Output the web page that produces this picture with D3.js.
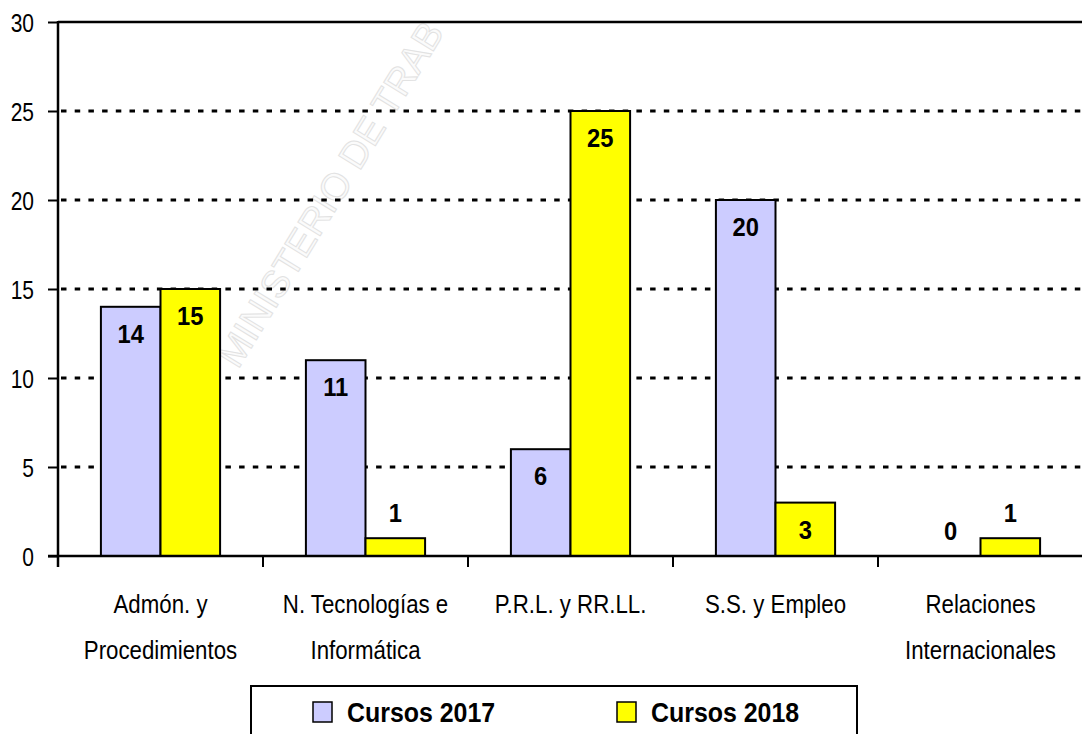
<!DOCTYPE html>
<html>
<head>
<meta charset="utf-8">
<script src="https://cdn.jsdelivr.net/npm/d3@7"></script>
<style>
  html, body { margin: 0; padding: 0; background: #fff; }
  svg { display: block; }
  text { font-family: "Liberation Sans", Arial, sans-serif; fill: #000; }
</style>
</head>
<body>
<svg id="chart" width="1082" height="734"></svg>
<script>
// ---- data ----
const categories = [
  ["Admón. y", "Procedimientos"],
  ["N. Tecnologías e", "Informática"],
  ["P.R.L. y RR.LL."],
  ["S.S. y Empleo"],
  ["Relaciones", "Internacionales"]
];
const categoryKeys = ["Admón. y Procedimientos", "N. Tecnologías e Informática", "P.R.L. y RR.LL.", "S.S. y Empleo", "Relaciones Internacionales"];
const seriesNames = ["Cursos 2017", "Cursos 2018"];
const cursos2017 = [14, 11, 6, 20, 0];
const cursos2018 = [15, 1, 25, 3, 1];
const yTicks = [0, 5, 10, 15, 20, 25, 30];
const colors = ["#CCCCFF", "#FFFF00"];

const seriesValues = [cursos2017, cursos2018];

const svg = d3.select("#chart");

// ---- scales ----
const x0 = d3.scaleBand().domain(categoryKeys).range([58, 1083]).paddingInner(0).paddingOuter(0);
const x1 = d3.scaleBand().domain(seriesNames).range([0, x0.bandwidth()]).paddingInner(0).paddingOuter(0.72);
const y = d3.scaleLinear().domain([0, 30]).range([556, 22]);

function squishText(parent, x, yy, str, size, weight, sx, anchor) {
  const g = parent.append("g").attr("transform", `translate(${x},${yy}) scale(${sx},1)`);
  g.append("text")
    .attr("text-anchor", anchor || "middle")
    .style("font-size", size + "px")
    .style("font-weight", weight || "normal")
    .text(str);
  return g;
}

// ---- watermark (visible part only) ----
svg.append("text")
  .attr("transform", "translate(238,370) rotate(-58.5)")
  .style("font-size", "38px")
  .style("fill", "#fbfbfb")
  .style("stroke", "#e2e2e2")
  .style("stroke-width", 1)
  .text("MINISTERIO DE TRAB");

// ---- gridlines ----
svg.append("g").selectAll("line")
  .data(yTicks.filter(d => d > 0 && d < 30))
  .join("line")
  .attr("x1", 61).attr("x2", 1082)
  .attr("y1", d => y(d)).attr("y2", d => y(d))
  .attr("stroke", "#000")
  .attr("stroke-width", 3)
  .attr("stroke-dasharray", "5.5,8.2");

// top border line at 30
svg.append("line")
  .attr("x1", 58).attr("x2", 1082)
  .attr("y1", y(30)).attr("y2", y(30))
  .attr("stroke", "#000").attr("stroke-width", 2.5);

// ---- bars ----
const groups = svg.append("g").selectAll("g")
  .data(categoryKeys)
  .join("g")
  .attr("transform", d => `translate(${x0(d)},0)`);

groups.selectAll("rect")
  .data((d, i) => seriesNames.map((s, j) => ({ s, v: seriesValues[j][i], j })))
  .join("rect")
  .attr("x", d => x1(d.s))
  .attr("width", x1.bandwidth())
  .attr("y", d => y(d.v))
  .attr("height", d => y(0) - y(d.v))
  .attr("fill", d => colors[d.j])
  .attr("stroke", d => d.v > 0 ? "#000" : "none")
  .attr("stroke-width", 2);

// ---- data labels ----
categoryKeys.forEach((c, i) => {
  seriesNames.forEach((s, j) => {
    const v = seriesValues[j][i];
    const cx = x0(c) + x1(s) + x1.bandwidth() / 2;
    const h = y(0) - y(v);
    const by = h < 40 ? y(v) - 16 : y(v) + 36;
    squishText(svg, cx, by, String(v), 25, "bold", 0.95);
  });
});

// ---- axes ----
const yAxis = d3.axisLeft(y).tickValues(yTicks).tickSize(10).tickSizeOuter(0);
const yg = svg.append("g").attr("transform", "translate(58,0)").call(yAxis);
yg.select(".domain").remove();
yg.selectAll(".tick line").attr("stroke", "#000").attr("stroke-width", 2);
yg.selectAll(".tick text")
  .attr("transform", "scale(0.84,1)")
  .attr("x", -24 / 0.84)
  .attr("dy", "0.36em")
  .style("font-size", "25px")
  .style("font-family", "'Liberation Sans', Arial, sans-serif");

// y axis line
svg.append("line")
  .attr("x1", 58).attr("x2", 58)
  .attr("y1", y(30) - 1).attr("y2", 567)
  .attr("stroke", "#000").attr("stroke-width", 2.5);

// x axis line
svg.append("line")
  .attr("x1", 48).attr("x2", 1082)
  .attr("y1", y(0)).attr("y2", y(0))
  .attr("stroke", "#000").attr("stroke-width", 2.5);

// x ticks at category boundaries
svg.append("g").selectAll("line")
  .data(categoryKeys)
  .join("line")
  .attr("x1", d => x0(d)).attr("x2", d => x0(d))
  .attr("y1", y(0)).attr("y2", 567)
  .attr("stroke", "#000").attr("stroke-width", 2);

// category labels
categoryKeys.forEach((c, i) => {
  const cx = x0(c) + x0.bandwidth() / 2;
  categories[i].forEach((line, k) => {
    squishText(svg, cx, 613 + k * 46, line, 26.5, "normal", 0.84);
  });
});

// ---- legend ----
const lg = svg.append("g");
lg.append("rect")
  .attr("x", 251).attr("y", 686)
  .attr("width", 606).attr("height", 70)
  .attr("fill", "#fff").attr("stroke", "#000").attr("stroke-width", 2);

const legendX = [313, 617];
seriesNames.forEach((s, j) => {
  lg.append("rect")
    .attr("x", legendX[j]).attr("y", 702)
    .attr("width", 19).attr("height", 20)
    .attr("fill", colors[j]).attr("stroke", "#000").attr("stroke-width", 1.5);
  squishText(lg, legendX[j] + 34, 722, s, 28, "bold", 0.89, "start");
});
</script>
</body>
</html>
